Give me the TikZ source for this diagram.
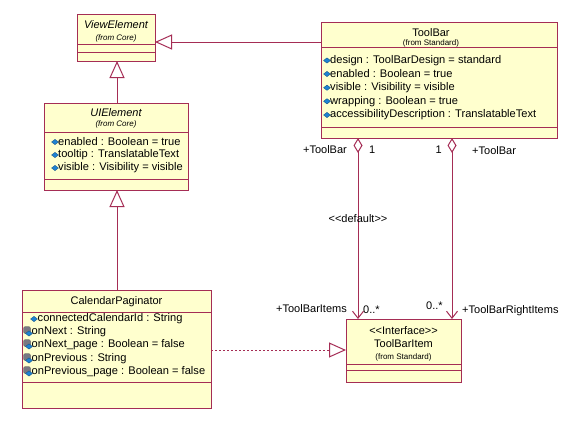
\documentclass[tikz,border=0pt]{standalone}
\usepackage{fontspec}
\setmainfont{Liberation Sans}[Ligatures=TeXOff]
\usetikzlibrary{arrows.meta,shapes.geometric}
\definecolor{umlline}{RGB}{165,45,85}
\definecolor{umlfill}{RGB}{255,255,206}
\definecolor{iconblue}{RGB}{30,130,210}
\definecolor{icongray}{RGB}{120,120,130}
\begin{document}
\begin{tikzpicture}[x=1pt,y=-1pt,
  umlbox/.style={draw=umlline,fill=umlfill,line width=1pt,inner sep=0pt,outer sep=0pt,anchor=north west},
  sep/.style={draw=umlline,line width=1pt},
  title/.style={font=\fontsize{11}{13}\selectfont,inner sep=0pt},
  sub/.style={font=\fontsize{8}{9}\selectfont,inner sep=0pt},
  attr/.style={font=\fontsize{11.1}{13}\selectfont,inner sep=0pt,anchor=west},
  lbl/.style={font=\fontsize{11}{13}\selectfont,inner sep=0pt},
  pubicon/.style={diamond,fill=iconblue,draw=iconblue!60!black,line width=0.3pt,minimum width=7pt,minimum height=5.5pt,inner sep=0pt},
  proticon/.style={rectangle,rounded corners=1.5pt,fill=icongray,draw=icongray!50!black,line width=0.3pt,minimum size=7pt,inner sep=0pt},
  conn/.style={draw=umlline,line width=1pt},
  gen/.style={conn,-{Triangle[open,length=17pt,width=15pt,fill=white]}},
  real/.style={conn,dashed,dash pattern=on 2pt off 2pt,-{Triangle[open,length=17pt,width=15pt,fill=white]}},
  agg/.style={conn,{Diamond[open,length=15pt,width=9pt,fill=white]}-{Straight Barb[length=7pt,width=11pt]}}
]
\useasboundingbox (0,0) rectangle (564,423);
\fill[white] (0,0) rectangle (564,423);

% ViewElement
\node[umlbox,minimum width=78pt,minimum height=47pt] (view) at (77,14) {};
\draw[sep] (77,44) -- (155,44);
\draw[sep] (77,52) -- (155,52);
\node[title,font=\fontsize{11}{13}\selectfont\itshape] (viewt) at (116,25) {ViewElement};
\node[sub,font=\fontsize{8}{9}\selectfont\itshape] (views) at (116,38.5) {(from Core)};

% ToolBar
\node[umlbox,minimum width=236pt,minimum height=116pt] (tb) at (321,22) {};
\draw[sep] (321,47) -- (557,47);
\draw[sep] (321,127) -- (557,127);
\node[title] (tbt) at (431,33) {ToolBar};
\node[sub] (tbs) at (431,43) {(from Standard)};
\node[pubicon] (tbi1) at (327,60.5) {};
\node[attr] (tba1) at (330,60.5) {design : ToolBarDesign = standard};
\node[pubicon] (tbi2) at (327,74) {};
\node[attr] (tba2) at (330,74) {enabled : Boolean = true};
\node[pubicon] (tbi3) at (327,87.7) {};
\node[attr] (tba3) at (330,87.7) {visible : Visibility = visible};
\node[pubicon] (tbi4) at (327,101.3) {};
\node[attr] (tba4) at (330,101.3) {wrapping : Boolean = true};
\node[pubicon] (tbi5) at (327,115) {};
\node[attr] (tba5) at (330,115) {accessibilityDescription : TranslatableText};

% UIElement
\node[umlbox,minimum width=144pt,minimum height=87pt] (ui) at (44,103) {};
\draw[sep] (44,132) -- (188,132);
\draw[sep] (44,179) -- (188,179);
\node[title,font=\fontsize{11}{13}\selectfont\itshape] (uit) at (116,113) {UIElement};
\node[sub,font=\fontsize{8}{9}\selectfont\itshape] (uis) at (116,124.5) {(from Core)};
\node[pubicon] (uii1) at (55,142) {};
\node[attr] (uia1) at (58,142) {enabled : Boolean = true};
\node[pubicon] (uii2) at (55,155) {};
\node[attr] (uia2) at (58,155) {tooltip : TranslatableText};
\node[pubicon] (uii3) at (55,168) {};
\node[attr] (uia3) at (58,168) {visible : Visibility = visible};

% CalendarPaginator
\node[umlbox,minimum width=189pt,minimum height=118pt] (cal) at (22,290) {};
\draw[sep] (22,312) -- (211,312);
\draw[sep] (22,382) -- (211,382);
\node[title] (calt) at (116.5,302) {CalendarPaginator};
\node[pubicon] (cali1) at (34,319) {};
\node[attr] (cala1) at (37.5,319) {connectedCalendarId : String};
\node[proticon] (calp2) at (27,330) {};
\node[pubicon] (cali2) at (29,333.5) {};
\node[attr] (cala2) at (31.5,332) {onNext : String};
\node[proticon] (calp3) at (27,343) {};
\node[pubicon] (cali3) at (29,346.5) {};
\node[attr] (cala3) at (31.5,345) {onNext\_page : Boolean = false};
\node[proticon] (calp4) at (27,357) {};
\node[pubicon] (cali4) at (29,360.5) {};
\node[attr] (cala4) at (31.5,359) {onPrevious : String};
\node[proticon] (calp5) at (27,370) {};
\node[pubicon] (cali5) at (29,373.5) {};
\node[attr] (cala5) at (31.5,372) {onPrevious\_page : Boolean = false};

% ToolBarItem
\node[umlbox,minimum width=115pt,minimum height=63pt] (tbi) at (346,319) {};
\draw[sep] (346,364) -- (461,364);
\draw[sep] (346,370) -- (461,370);
\node[title] (tbit1) at (403.5,331) {<<Interface>>};
\node[title] (tbit2) at (403.5,343.5) {ToolBarItem};
\node[sub] (tbis) at (403.5,357.5) {(from Standard)};

% connectors
\coordinate (uitop) at (117,103);
\coordinate (viewbot) at (117,61);
\draw[gen] (ui.north -| uitop) -- (view.south -| viewbot);
\coordinate (caltop) at (117,290);
\draw[gen] (cal.north -| caltop) -- (ui.south -| caltop);
\draw[gen] (tb.west |- 0,42) -- (view.east |- 0,42);
\draw[real] (cal.east |- 0,350) -- (tbi.west |- 0,350);
\draw[agg] (tb.south -| 358,0) -- (tbi.north -| 358,0);
\draw[agg] (tb.south -| 452,0) -- (tbi.north -| 452,0);

% labels
\node[lbl,anchor=east] (l1) at (347,150) {+ToolBar};
\node[lbl,anchor=west] (l2) at (369,150) {1};
\node[lbl,anchor=east] (l3) at (442,150) {1};
\node[lbl,anchor=west] (l4) at (472,151) {+ToolBar};
\node[lbl] (l5) at (358,219) {<<default>>};
\node[lbl,anchor=east] (l6) at (347,309) {+ToolBarItems};
\node[lbl,anchor=west] (l7) at (363,310) {0..*};
\node[lbl,anchor=west] (l8) at (426,306) {0..*};
\node[lbl,anchor=west] (l9) at (462,311) {+ToolBarRightItems};
\end{tikzpicture}
\end{document}
